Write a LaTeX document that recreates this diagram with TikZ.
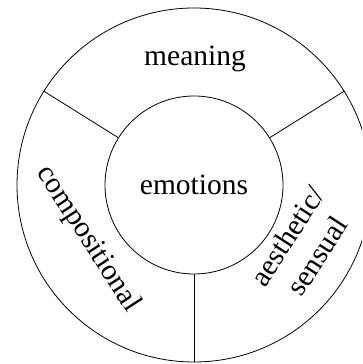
\documentclass[tikz,border=0pt]{standalone}
\usepackage{fontspec}
\setmainfont{Liberation Serif}
\begin{document}
\begin{tikzpicture}[x=1pt,y=1pt,
  ring/.style={circle, draw, line width=0.8pt, inner sep=0pt},
  divider/.style={line width=0.8pt},
  lbl/.style={font=\fontsize{29.5}{36}\selectfont, inner sep=0pt}]
\useasboundingbox (0,0) rectangle (362,364);
\clip (0,0) rectangle (362,364);
\coordinate (c) at (194,179);
\node (outer) [ring, minimum size=354pt] at (c) {};
\node (inner) [ring, minimum size=178pt, lbl] at (c) {emotions};
\draw[divider] (inner.148) -- (outer.148);
\draw[divider] (inner.32) -- (outer.32);
\draw[divider] (inner.270) -- (outer.270);
\node (meaning) [lbl, anchor=base] at (195,298) {meaning};
\node (comp) [lbl, rotate=-57] at (88,125) {compositional};
\node (aes) [lbl, rotate=57, align=center] at (302,118) {aesthetic/\\sensual};
\end{tikzpicture}
\end{document}
